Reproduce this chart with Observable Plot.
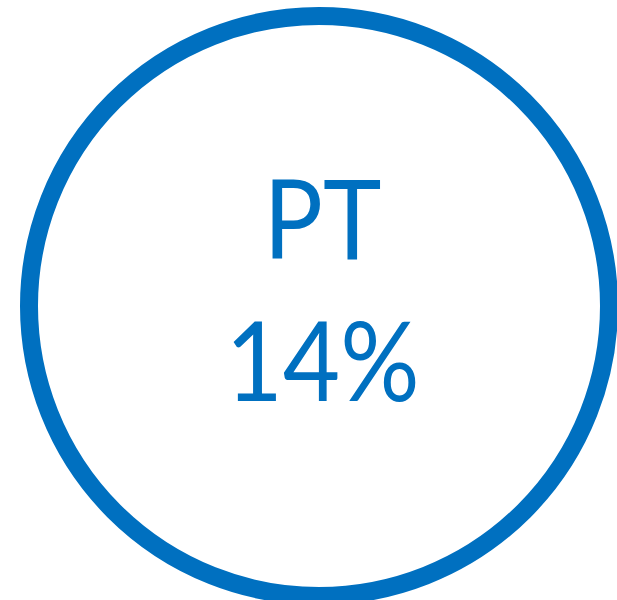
<!DOCTYPE html>
<html>
<head>
<meta charset="utf-8">
<script src="https://cdn.jsdelivr.net/npm/d3@7"></script>
<script src="https://cdn.jsdelivr.net/npm/@observablehq/plot@0.6"></script>
<style>
  html, body { margin: 0; padding: 0; background: #fff; }
  .narrow { transform-box: fill-box; transform-origin: center; transform: scaleX(0.9); }
</style>
</head>
<body>
<div id="chart"></div>
<script>
const labels = ["PT"];
const shares = [14];

const rows = labels.map((label, i) => ({ label, share: shares[i], cx: 0, cy: 0 }));
const blue = "#0070C0";

const chart = Plot.plot({
  width: 617,
  height: 600,
  margin: 0,
  x: { domain: [-1, 1], range: [28.5, 608.5], axis: null },
  y: { domain: [-1, 1], range: [595.5, 15.5], axis: null },
  style: { background: "#fff" },
  marks: [
    Plot.dot(rows, { x: "cx", y: "cy", r: 290, stroke: blue, strokeWidth: 18, fill: "none" }),
    Plot.text(rows, { x: "cx", y: "cy", text: "label", fill: blue, fontSize: 110,
      fontFamily: "Lato", lineAnchor: "bottom", textAnchor: "middle", dx: 3.5, dy: -47.5 }),
    Plot.text(rows, { x: "cx", y: "cy", text: d => `${d.share}%`, fill: blue, fontSize: 110,
      fontFamily: "Lato", lineAnchor: "bottom", textAnchor: "middle", dx: 3.5, dy: 94.5 })
  ]
});
// Narrow the text horizontally to approximate the condensed original face
chart.querySelectorAll('g[aria-label="text"]').forEach(g => {
  const wrap = document.createElementNS("http://www.w3.org/2000/svg", "g");
  wrap.setAttribute("class", "narrow");
  g.parentNode.insertBefore(wrap, g);
  wrap.appendChild(g);
});
document.getElementById("chart").append(chart);
</script>
</body>
</html>
